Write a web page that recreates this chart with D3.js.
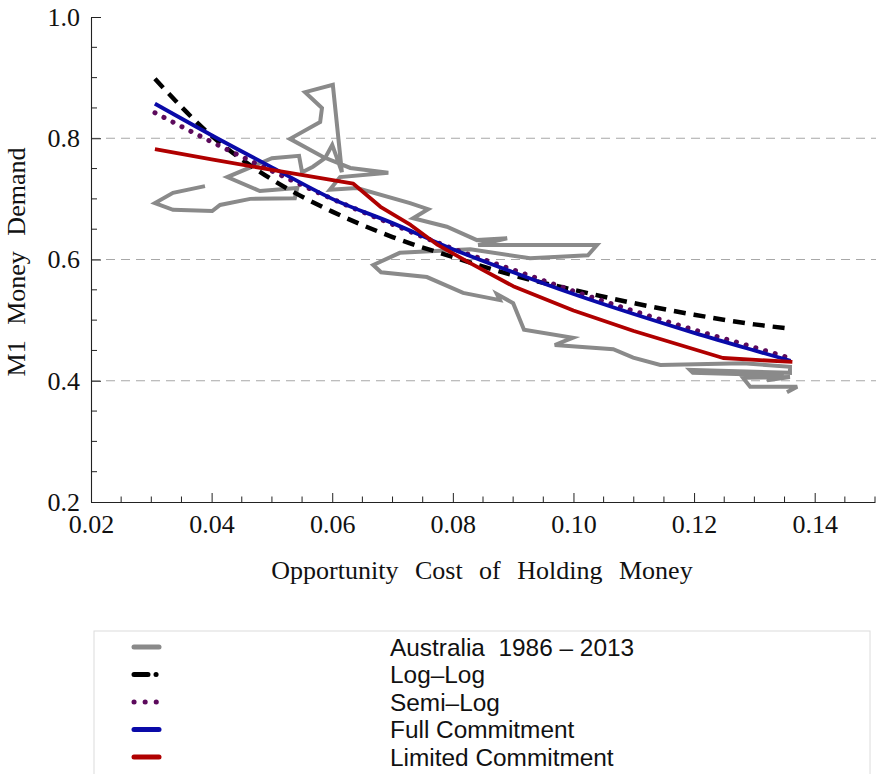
<!DOCTYPE html>
<html>
<head>
<meta charset="utf-8">
<script src="https://cdn.jsdelivr.net/npm/d3@7"></script>
<style>
  html, body { margin: 0; padding: 0; background: #fff; }
  svg { display: block; }
</style>
</head>
<body>
<svg id="chart" width="876" height="774"></svg>
<script>
// ---- Data ----
const ausX = [0.0389,0.0336,0.0306,0.0336,0.0401,0.0414,0.0464,0.0538,0.0542,0.0480,0.0426,0.0500,0.0545,0.0550,0.0568,0.0588,0.0600,0.0616,0.0601,0.0555,0.0583,0.0580,0.0530,0.0585,0.0630,0.0693,0.0613,0.0596,0.0641,0.0729,0.0759,0.0734,0.0790,0.0840,0.0890,0.0842,0.1039,0.1024,0.0928,0.0829,0.0712,0.0668,0.0681,0.0757,0.0817,0.0878,0.0873,0.0900,0.0918,0.0999,0.0969,0.1066,0.1099,0.1144,0.1281,0.1359,0.1359,0.1193,0.1198,0.1314,0.1348,0.1321,0.1359,0.1281,0.1293,0.1371,0.1354];
const ausY = [0.721,0.710,0.693,0.682,0.680,0.690,0.700,0.701,0.718,0.713,0.736,0.767,0.771,0.744,0.753,0.767,0.789,0.744,0.888,0.876,0.850,0.827,0.799,0.769,0.751,0.743,0.736,0.715,0.718,0.693,0.683,0.668,0.654,0.632,0.635,0.624,0.624,0.607,0.602,0.617,0.611,0.591,0.579,0.571,0.545,0.533,0.543,0.528,0.484,0.471,0.459,0.452,0.438,0.426,0.429,0.423,0.413,0.418,0.413,0.410,0.413,0.401,0.406,0.405,0.390,0.390,0.381];

const fitX    = [0.0306,0.04,0.05,0.06,0.07,0.08,0.09,0.10,0.11,0.12,0.13,0.136];
const logLog  = [0.898,0.804,0.732,0.679,0.637,0.604,0.574,0.550,0.528,0.509,0.493,0.486];
const semiLog = [0.842,0.794,0.746,0.700,0.658,0.618,0.583,0.548,0.515,0.484,0.455,0.437];
const fullCommit = [0.857,0.805,0.752,0.700,0.660,0.617,0.579,0.543,0.510,0.479,0.450,0.433];

const limX = [0.0306,0.04,0.05,0.0635,0.068,0.073,0.0775,0.0825,0.09,0.10,0.11,0.1248,0.1363];
const limY = [0.782,0.765,0.748,0.725,0.687,0.657,0.624,0.596,0.556,0.516,0.482,0.4375,0.431];

const xTicks = [0.02,0.04,0.06,0.08,0.10,0.12,0.14];
const yTicks = [0.2,0.4,0.6,0.8,1.0];
const gridY = [0.4,0.6,0.8];

const legendLabels = ["Australia  1986 \u2013 2013","Log\u2013Log","Semi\u2013Log","Full Commitment","Limited Commitment"];

// ---- Chart ----
const svg = d3.select("#chart");
const x = d3.scaleLinear().domain([0.02, 0.15]).range([91, 875]);
const y = d3.scaleLinear().domain([0.2, 1.0]).range([502, 17]);

const serif = "'Liberation Serif','Times New Roman',serif";
const sans = "'Liberation Sans',Arial,sans-serif";

// grid
svg.append("g").selectAll("line").data(gridY).join("line")
  .attr("x1", x(0.02)).attr("x2", 876)
  .attr("y1", d => y(d)).attr("y2", d => y(d))
  .attr("stroke", "#a8a8a8").attr("stroke-width", 1.2)
  .attr("stroke-dasharray", "9,6");

// axes
const minorX = d3.range(0.025, 0.1501, 0.005).filter(v => Math.abs(v*50 - Math.round(v*50)) > 1e-6);
const minorY = d3.range(0.25, 1.0, 0.05).filter(v => Math.abs(v*5 - Math.round(v*5)) > 1e-6);

const gx = svg.append("g").attr("transform", `translate(0,${y(0.2)})`);
gx.call(d3.axisBottom(x).tickValues(xTicks).tickFormat(d3.format(".2f"))
  .tickSizeInner(-9).tickSizeOuter(0).tickPadding(13));
gx.append("g").selectAll("line").data(minorX).join("line")
  .attr("x1", d => x(d)).attr("x2", d => x(d)).attr("y1", 0).attr("y2", -5.5)
  .attr("stroke", "#222");

const gy = svg.append("g").attr("transform", `translate(${x(0.02)},0)`);
gy.call(d3.axisLeft(y).tickValues(yTicks).tickFormat(d3.format(".1f"))
  .tickSizeInner(-10).tickSizeOuter(0).tickPadding(11));
gy.append("g").selectAll("line").data(minorY).join("line")
  .attr("y1", d => y(d)).attr("y2", d => y(d)).attr("x1", 0).attr("x2", 6)
  .attr("stroke", "#222");

[gx, gy].forEach(g => {
  g.selectAll("path.domain").attr("stroke", "#222").attr("stroke-width", 1.1);
  g.selectAll(".tick line").attr("stroke", "#222");
  g.selectAll("text").attr("font-family", serif).attr("font-size", 26).attr("fill", "#111");
});

// axis titles
svg.append("text")
  .attr("x", 482).attr("y", 579).attr("text-anchor", "middle")
  .attr("font-family", serif).attr("font-size", 26).attr("word-spacing", 10).attr("fill", "#111")
  .text("Opportunity Cost of Holding Money");
svg.append("text")
  .attr("transform", "translate(25,262) rotate(-90)").attr("text-anchor", "middle")
  .attr("font-family", serif).attr("font-size", 26).attr("word-spacing", 9).attr("fill", "#111")
  .text("M1 Money Demand");

// lines
const line = d3.line().x(d => x(d[0])).y(d => y(d[1]));
const smooth = d3.line().x(d => x(d[0])).y(d => y(d[1])).curve(d3.curveMonotoneX);
const plot = svg.append("g");

plot.append("path").datum(d3.zip(ausX, ausY)).attr("d", line)
  .attr("fill", "none").attr("stroke", "#8a8a8a").attr("stroke-width", 4)
  .attr("stroke-linejoin", "miter");

plot.append("path").datum(d3.zip(fitX, logLog)).attr("d", smooth)
  .attr("fill", "none").attr("stroke", "#000").attr("stroke-width", 4.5)
  .attr("stroke-dasharray", "12,8").attr("stroke-linecap", "butt");

plot.append("path").datum(d3.zip(fitX, semiLog)).attr("d", smooth)
  .attr("fill", "none").attr("stroke", "#5c0a5c").attr("stroke-width", 5)
  .attr("stroke-dasharray", "0.1,10").attr("stroke-linecap", "round");

plot.append("path").datum(d3.zip(fitX, fullCommit)).attr("d", smooth)
  .attr("fill", "none").attr("stroke", "#0a0aa8").attr("stroke-width", 3.8);

plot.append("path").datum(d3.zip(limX, limY)).attr("d", line)
  .attr("fill", "none").attr("stroke", "#b00000").attr("stroke-width", 3.8)
  .attr("stroke-linejoin", "round");

// legend
const lg = svg.append("g");
lg.append("rect").attr("x", 94).attr("y", 631).attr("width", 776).attr("height", 170)
  .attr("fill", "none").attr("stroke", "#dcdcdc").attr("stroke-width", 1);

const legStyles = [
  {c: "#8a8a8a", w: 5, dash: null, cap: "round"},
  {c: "#000", w: 5, dash: "14,8,0.1,40", cap: "round"},
  {c: "#5c0a5c", w: 5, dash: "0.1,11", cap: "round"},
  {c: "#0a0aa8", w: 5, dash: null, cap: "round"},
  {c: "#b00000", w: 5, dash: null, cap: "round"}
];
const rowY = i => 647 + i * 27.5;
lg.selectAll("line").data(legStyles).join("line")
  .attr("x1", 134).attr("x2", 159)
  .attr("y1", (d, i) => rowY(i)).attr("y2", (d, i) => rowY(i))
  .attr("stroke", d => d.c).attr("stroke-width", d => d.w)
  .attr("stroke-linecap", d => d.cap)
  .attr("stroke-dasharray", d => d.dash);
lg.selectAll("text").data(legendLabels).join("text")
  .attr("x", 390).attr("y", (d, i) => rowY(i)).attr("dy", "0.36em")
  .attr("font-family", sans).attr("font-size", 24.4).attr("fill", "#111")
  .style("white-space", "pre")
  .text(d => d);
</script>
</body>
</html>
